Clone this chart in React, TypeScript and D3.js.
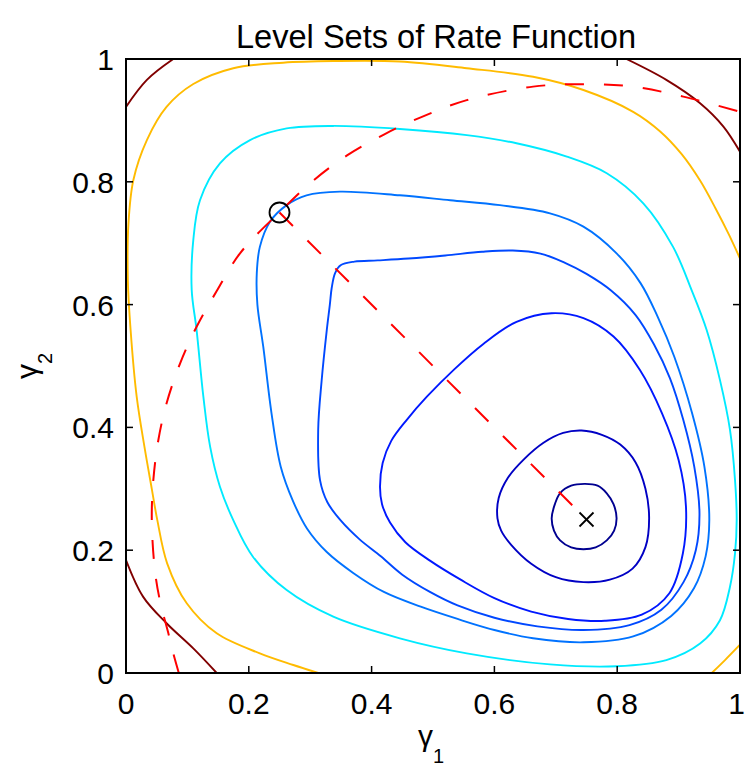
import React from 'react';
import * as d3 from 'd3';

type P = [number, number];

const xTicks = [0, 0.2, 0.4, 0.6, 0.8, 1];
const yTicks = [0, 0.2, 0.4, 0.6, 0.8, 1];
const tickLabels = ['0', '0.2', '0.4', '0.6', '0.8', '1'];
const titleText = 'Level Sets of Rate Function';

// closed contour levels, innermost first
const level1: P[] = [[0.6933,0.252],[0.6985,0.275],[0.7068,0.2927],[0.725,0.305],[0.7476,0.308],[0.768,0.305],[0.783,0.2927],[0.794,0.275],[0.799,0.252],[0.795,0.232],[0.783,0.216],[0.765,0.2045],[0.745,0.2015],[0.725,0.2045],[0.707,0.216],[0.697,0.232]];
const level2: P[] = [[0.605,0.252],[0.607,0.285],[0.622,0.318],[0.648,0.348],[0.68,0.375],[0.712,0.391],[0.742,0.395],[0.775,0.388],[0.805,0.372],[0.83,0.343],[0.846,0.3],[0.852,0.252],[0.846,0.205],[0.825,0.17],[0.788,0.152],[0.745,0.148],[0.7,0.156],[0.66,0.178],[0.628,0.208],[0.611,0.232]];
const level3: P[] = [[0.4137,0.303],[0.418,0.342],[0.432,0.378],[0.457,0.412],[0.49,0.45],[0.535,0.495],[0.582,0.536],[0.636,0.572],[0.693,0.586],[0.745,0.578],[0.794,0.548],[0.837,0.4935],[0.873,0.423],[0.9,0.347],[0.912,0.271],[0.907,0.195],[0.885,0.13],[0.84,0.095],[0.78,0.085],[0.72,0.088],[0.66,0.1],[0.6,0.122],[0.545,0.152],[0.495,0.183],[0.455,0.213],[0.43,0.245],[0.417,0.275]];
const level4: P[] = [[0.3404,0.651],[0.3495,0.664],[0.372,0.67],[0.41,0.672],[0.46,0.675],[0.52,0.68],[0.58,0.686],[0.63,0.688],[0.675,0.683],[0.715,0.668],[0.75,0.65],[0.79,0.623],[0.83,0.583],[0.86,0.535],[0.886,0.48],[0.9077,0.412],[0.9255,0.336],[0.934,0.26],[0.928,0.2],[0.908,0.148],[0.872,0.103],[0.82,0.078],[0.745,0.07],[0.67,0.076],[0.6,0.09],[0.54,0.11],[0.495,0.132],[0.45,0.16],[0.415,0.19],[0.38,0.218],[0.35,0.248],[0.328,0.278],[0.316,0.314],[0.313,0.396],[0.3187,0.477],[0.327,0.5586],[0.332,0.6],[0.335,0.627]];
const level5: P[] = [[0.213,0.651],[0.218,0.694],[0.2345,0.735],[0.2617,0.762],[0.294,0.778],[0.3485,0.784],[0.446,0.778],[0.528,0.77],[0.609,0.762],[0.6906,0.7487],[0.745,0.727],[0.799,0.6835],[0.838,0.635],[0.866,0.58],[0.893,0.515],[0.922,0.423],[0.942,0.336],[0.95,0.249],[0.944,0.19],[0.925,0.138],[0.888,0.093],[0.826,0.0595],[0.745,0.05],[0.663,0.0565],[0.6,0.07],[0.54,0.088],[0.48,0.108],[0.42,0.132],[0.37,0.163],[0.327,0.197],[0.295,0.235],[0.272,0.28],[0.252,0.336],[0.237,0.423],[0.2236,0.531],[0.214,0.6]];
const level6: P[] = [[0.107,0.624],[0.1096,0.705],[0.1205,0.77],[0.153,0.83],[0.202,0.868],[0.2617,0.887],[0.3376,0.891],[0.446,0.886],[0.555,0.876],[0.636,0.8627],[0.718,0.841],[0.783,0.814],[0.8425,0.765],[0.891,0.694],[0.921,0.624],[0.9457,0.5586],[0.9674,0.477],[0.9837,0.396],[0.9919,0.314],[0.9946,0.249],[0.9919,0.195],[0.9837,0.1405],[0.9674,0.086],[0.935,0.048],[0.88,0.021],[0.799,0.011],[0.6906,0.014],[0.555,0.032],[0.446,0.0565],[0.3376,0.0917],[0.2617,0.135],[0.207,0.189],[0.1747,0.249],[0.153,0.3034],[0.137,0.3686],[0.126,0.45],[0.115,0.5586]];

// open contour pieces
const level7a: P[] = [[0.313,0.0],[0.2725,0.013],[0.218,0.032],[0.1477,0.0646],[0.0989,0.1135],[0.067,0.1786],[0.051,0.249],[0.042,0.3],[0.03,0.3686],[0.0174,0.45],[0.0075,0.5586],[0.003,0.64],[0.004,0.732],[0.012,0.803],[0.034,0.868],[0.066,0.922],[0.1096,0.9593],[0.1747,0.985],[0.256,0.994],[0.3376,0.9967],[0.446,0.996],[0.555,0.985],[0.663,0.971],[0.745,0.9495],[0.826,0.914],[0.87,0.882],[0.905,0.845],[0.935,0.802],[0.96,0.757],[0.982,0.714],[1.0,0.675]];
const level7b: P[] = [[0.954,0.0],[0.9756,0.021],[1.0,0.046]];
const level8a: P[] = [[0.0,0.922],[0.034,0.966],[0.077,1.0]];
const level8b: P[] = [[0.0,0.184],[0.028,0.124],[0.066,0.081],[0.1096,0.04],[0.1477,0.0]];
const level8c: P[] = [[0.815,1.0],[0.88,0.966],[0.935,0.928],[0.973,0.89],[1.0,0.849]];

const pathArc: P[] = [[0.086,0.0],[0.077,0.032],[0.069,0.0646],[0.055,0.119],[0.047,0.168],[0.042,0.249],[0.0445,0.314],[0.0527,0.3795],[0.066,0.439],[0.088,0.504],[0.115,0.564],[0.1477,0.622],[0.1857,0.6835],[0.251,0.7515],[0.305,0.802],[0.36,0.843],[0.42,0.877],[0.48,0.905],[0.555,0.933],[0.663,0.955],[0.745,0.959],[0.826,0.955],[0.9077,0.9387],[1.0,0.914]];
const pathLine: P[] = [[0.25,0.75],[0.75,0.25]];
const startPoint: P = [0.25, 0.75];
const optimumPoint: P = [0.75, 0.25];

const closedLevels = [level1, level2, level3, level4, level5, level6];
const closedColors = ['#000090', '#0000C4', '#0018FF', '#0048FF', '#0072FF', '#00EAFF'];
const openLevels = [level7a, level7b, level8a, level8b, level8c];
const openColors = ['#FFBB00', '#FFBB00', '#800000', '#800000', '#800000'];

const W = 745, H = 767;
const L = 126, R = 740, T = 59, B = 673;

export default function App() {
  const x = d3.scaleLinear().domain([0, 1]).range([L, R]);
  const y = d3.scaleLinear().domain([0, 1]).range([B, T]);
  const closedLine = d3.line<P>().x(d => x(d[0])).y(d => y(d[1])).curve(d3.curveCatmullRomClosed.alpha(0.5));
  const openLine = d3.line<P>().x(d => x(d[0])).y(d => y(d[1])).curve(d3.curveCatmullRom.alpha(0.5));
  const straight = d3.line<P>().x(d => x(d[0])).y(d => y(d[1]));
  const font = 'Liberation Sans, Arial, Helvetica, sans-serif';
  const tickLen = 7;
  return (
    <svg width={W} height={H} style={{ position: 'absolute', left: 0, top: 0, background: '#fff' }} fontFamily={font}>
      <defs>
        <clipPath id="plotClip"><rect x={L} y={T} width={R - L} height={B - T} /></clipPath>
      </defs>
      <rect x={0} y={0} width={W} height={H} fill="#fff" />
      <g clipPath="url(#plotClip)" fill="none" strokeWidth={1.9} strokeLinejoin="round">
        {closedLevels.map((pts, i) => (
          <path key={'c' + i} d={closedLine(pts) || ''} stroke={closedColors[i]} />
        ))}
        {openLevels.map((pts, i) => (
          <path key={'o' + i} d={openLine(pts) || ''} stroke={openColors[i]} />
        ))}
        <path d={openLine(pathArc) || ''} stroke="#FF0000" strokeWidth={2} strokeDasharray="19 20" />
        <path d={straight(pathLine) || ''} stroke="#FF0000" strokeWidth={2} strokeDasharray="19 20.5" />
        <circle cx={x(startPoint[0])} cy={y(startPoint[1])} r={10} stroke="#000" strokeWidth={1.8} fill="none" />
        <g stroke="#000" strokeWidth={1.8}>
          <line x1={x(optimumPoint[0]) - 7} y1={y(optimumPoint[1]) - 7} x2={x(optimumPoint[0]) + 7} y2={y(optimumPoint[1]) + 7} />
          <line x1={x(optimumPoint[0]) - 7} y1={y(optimumPoint[1]) + 7} x2={x(optimumPoint[0]) + 7} y2={y(optimumPoint[1]) - 7} />
        </g>
      </g>
      <rect x={L} y={T} width={R - L} height={B - T} fill="none" stroke="#000" strokeWidth={2} />
      <g stroke="#000" strokeWidth={1.5}>
        {xTicks.map((t, i) => (
          <g key={'xt' + i}>
            <line x1={x(t)} x2={x(t)} y1={B} y2={B - tickLen} />
            <line x1={x(t)} x2={x(t)} y1={T} y2={T + tickLen} />
          </g>
        ))}
        {yTicks.map((t, i) => (
          <g key={'yt' + i}>
            <line x1={L} x2={L + tickLen} y1={y(t)} y2={y(t)} />
            <line x1={R} x2={R - tickLen} y1={y(t)} y2={y(t)} />
          </g>
        ))}
      </g>
      <g fontSize={30} fill="#000">
        {xTicks.map((t, i) => {
          const last = i === xTicks.length - 1;
          return (
            <text key={'xl' + i} x={last ? W : x(t)} y={B + 41} textAnchor={last ? 'end' : 'middle'}>{tickLabels[i]}</text>
          );
        })}
        {yTicks.map((t, i) => (
          <text key={'yl' + i} x={L - 12} y={y(t) + 11} textAnchor="end">{tickLabels[i]}</text>
        ))}
      </g>
      <text x={(L + R) / 2 + 3} y={48} fontSize={34} textAnchor="middle" textLength={400} lengthAdjust="spacingAndGlyphs">{titleText}</text>
      <text x={(L + R) / 2 - 2} y={746} fontSize={30} textAnchor="middle">
        γ<tspan fontSize={20} dy={17}>1</tspan>
      </text>
      <text transform={`translate(37, ${(T + B) / 2}) rotate(-90)`} fontSize={30} textAnchor="middle">
        γ<tspan fontSize={20} dy={15}>2</tspan>
      </text>
    </svg>
  );
}
